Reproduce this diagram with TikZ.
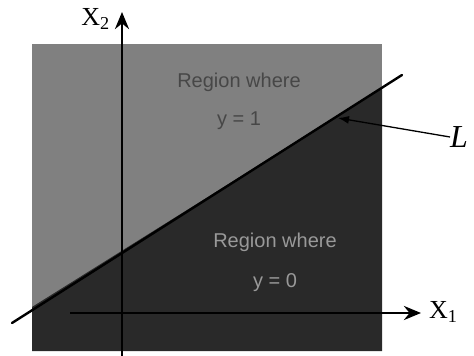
\documentclass[tikz,border=0pt]{standalone}
\usepackage{fontspec}
\setmainfont{Liberation Serif}
\newfontfamily\regionfont{Liberation Sans}
\usepackage{tikz}
\usetikzlibrary{arrows.meta, positioning, calc}
\tikzset{
    axis/.style={line width=2.8pt, -{Stealth[length=17pt, width=14pt]}},
    regiontext/.style={font=\regionfont\fontsize{20}{22}\selectfont, inner sep=0pt},
    axislabel/.style={font=\fontsize{26}{28}\selectfont, inner sep=0pt}
}

\begin{document}
\begin{tikzpicture}[x=1pt, y=-1pt]
    \useasboundingbox (0,0) rectangle (474,356);

    % square and the boundary line L
    \coordinate (sqtl) at (32,44);
    \coordinate (sqbr) at (382,351);
    \coordinate (la) at (12,323);
    \coordinate (lb) at (402,75);

    \fill [black!50] (sqtl) rectangle (sqbr);
    \fill [black!84] (32,307) -- (382,88) -- (382,351) -- (32,351) -- cycle;

    % axes
    \coordinate (xo) at (70,313);
    \coordinate (xe) at (421,313);
    \coordinate (yo) at (122,356);
    \coordinate (ye) at (122,12);
    \draw [axis] (yo) -- (ye);
    \draw [axis] (xo) -- (xe);
    \draw [line width=2.4pt, line cap=round] (la) -- (lb);

    \node (xone) [axislabel, anchor=west] at (429,312) {X\textsubscript{1}};
    \node (xtwo) [axislabel, anchor=east] at (110,19) {X\textsubscript{2}};

    \node (upper) [regiontext, text=black!72] at (239,82) {Region where};
    \node (upperval) [regiontext, text=black!72, below=20pt of upper] {y = 1};
    \node (lower) [regiontext, text=black!40] at (275,242) {Region where};
    \node (lowerval) [regiontext, text=black!40, below=22pt of lower] {y = 0};

    \node (lname) [font=\itshape\fontsize{32}{34}\selectfont, inner sep=0pt, anchor=west] at (450,137) {L};
    \coordinate (ltip) at (338,118);
    \draw [line width=1.3pt, -{Latex[length=11pt, width=8pt]}] (lname.west) -- (ltip);
\end{tikzpicture}
\end{document}
